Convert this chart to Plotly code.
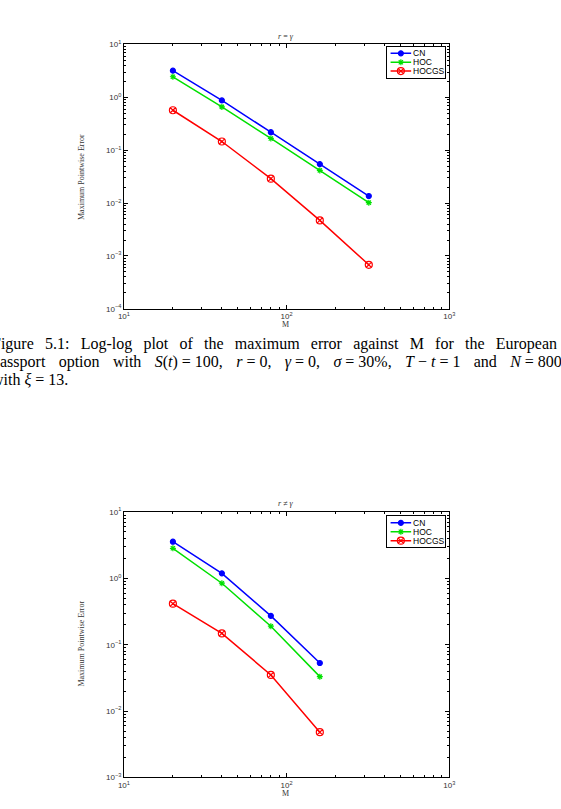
import plotly.graph_objects as go

W, H = 561, 809

# ---------------- data ----------------
M1 = [20, 40, 80, 160, 320]
cn1 = [3.2, 0.875, 0.219, 0.0546, 0.0136]
hoc1 = [2.45, 0.66, 0.167, 0.0415, 0.0102]
hocgs1 = [0.57, 0.146, 0.029, 0.0047, 0.00068]

M2 = [20, 40, 80, 160]
cn2 = [3.57, 1.19, 0.272, 0.053]
hoc2 = [2.84, 0.845, 0.19, 0.033]
hocgs2 = [0.415, 0.148, 0.035, 0.0048]

series_names = ["CN", "HOC", "HOCGS"]
x_tickvals = [10, 100, 1000]
x_ticktext = ["10<sup>1</sup>", "10<sup>2</sup>", "10<sup>3</sup>"]
y1_tickvals = [1e-4, 1e-3, 1e-2, 1e-1, 1, 10]
y1_ticktext = ["10<sup>−4</sup>", "10<sup>−3</sup>", "10<sup>−2</sup>", "10<sup>−1</sup>", "10<sup>0</sup>", "10<sup>1</sup>"]
y2_tickvals = [1e-3, 1e-2, 1e-1, 1, 10]
y2_ticktext = ["10<sup>−3</sup>", "10<sup>−2</sup>", "10<sup>−1</sup>", "10<sup>0</sup>", "10<sup>1</sup>"]

G1 = "\u2002\u2009"   # justified inter-word gap, line 1
G2 = "\u2002\u2004"   # justified inter-word gap, line 2
caption_line1_words = ["Figure", "5.1:", "Log-log", "plot", "of", "the", "maximum", "error",
                       "against", "M", "for", "the", "European"]
caption_line2_parts = ["passport", "option", "with", "<i>S</i>(<i>t</i>) = 100,", "<i>r</i> = 0,",
                       "<i>γ</i> = 0,", "<i>σ</i> = 30%,", "<i>T</i> − <i>t</i> = 1", "and",
                       "<i>N</i> = 800"]
caption_line3 = "with <i>ξ</i> = 13."

# ---------------- styles ----------------
styles = {
    "CN": dict(color="#0000FF", symbol="circle", size=5),
    "HOC": dict(color="#00E000", symbol="asterisk-open", size=5),
    "HOCGS": dict(color="#FF0000", symbol="circle-x-open", size=7),
}


def px(x):
    return x / W


def py(y):
    return 1 - y / H


fig = go.Figure()

for xa, ya, M, vals in [("x", "y", M1, [cn1, hoc1, hocgs1]), ("x2", "y2", M2, [cn2, hoc2, hocgs2])]:
    for name, v in zip(series_names, vals):
        s = styles[name]
        fig.add_trace(go.Scatter(
            x=M, y=v, mode="lines+markers", name=name, showlegend=False,
            xaxis=xa, yaxis=ya,
            line=dict(color=s["color"], width=1.5),
            marker=dict(symbol=s["symbol"], size=s["size"], color=s["color"],
                        line=dict(color=s["color"], width=1.2)),
        ))

# custom compact legends (drawn on small helper axes)
legend_axes = [("x3", "y3"), ("x4", "y4")]
for xa, ya in legend_axes:
    for i, name in enumerate(series_names):
        s = styles[name]
        yy = 6.5 + 9 * i
        fig.add_trace(go.Scatter(x=[4, 25], y=[yy, yy], mode="lines", showlegend=False,
                                 xaxis=xa, yaxis=ya, line=dict(color=s["color"], width=1.5),
                                 hoverinfo="skip"))
        fig.add_trace(go.Scatter(x=[14.5], y=[yy], mode="markers", showlegend=False,
                                 xaxis=xa, yaxis=ya,
                                 marker=dict(symbol=s["symbol"], size=s["size"], color=s["color"],
                                             line=dict(color=s["color"], width=1.2)),
                                 hoverinfo="skip"))
        fig.add_annotation(x=26, y=yy, xref=xa, yref=ya, text=name, showarrow=False,
                           xanchor="left", yanchor="middle", borderpad=0,
                           font=dict(family="Liberation Sans", size=8.5, color="black"))

tickfont = dict(family="Liberation Sans", size=8, color="#333333")
minor_x = [m * 10 ** e for e in (1, 2) for m in range(2, 10)]


def log_axis(domain, rng, tickvals, ticktext, minor_vals):
    return dict(
        type="log", domain=domain, range=rng,
        tickmode="array", tickvals=tickvals, ticktext=ticktext,
        ticks="inside", ticklen=4, tickwidth=1, tickcolor="black",
        showline=True, linecolor="black", linewidth=1, mirror="ticks",
        showgrid=False, zeroline=False, tickfont=tickfont,
        minor=dict(tickmode="array", tickvals=minor_vals, ticks="inside", ticklen=2,
                   tickcolor="black", showgrid=False),
    )


minor_y1 = [m * 10.0 ** e for e in range(-4, 1) for m in range(2, 10)]
minor_y2 = [m * 10.0 ** e for e in range(-3, 1) for m in range(2, 10)]

xdom = [px(120.5), px(453)]
y1dom = [py(307), py(39)]
y2dom = [py(782), py(513)]

box_axis = dict(showticklabels=False, ticks="", showgrid=False, zeroline=False, showline=True,
                linecolor="black", linewidth=1, mirror=True, fixedrange=True)

fig.update_layout(
    width=W, height=H, margin=dict(l=0, r=0, t=0, b=0),
    paper_bgcolor="white", plot_bgcolor="white",
    showlegend=False,
    xaxis=log_axis(xdom, [1, 3], x_tickvals, x_ticktext, minor_x) | dict(anchor="y"),
    yaxis=log_axis(y1dom, [-4, 1], y1_tickvals, y1_ticktext, minor_y1) | dict(anchor="x"),
    xaxis2=log_axis(xdom, [1, 3], x_tickvals, x_ticktext, minor_x) | dict(anchor="y2"),
    yaxis2=log_axis(y2dom, [-3, 1], y2_tickvals, y2_ticktext, minor_y2) | dict(anchor="x2"),
    xaxis3=box_axis | dict(domain=[px(389), px(449)], range=[0, 60], anchor="y3"),
    yaxis3=box_axis | dict(domain=[py(72.5), py(41.5)], range=[31, 0], anchor="x3"),
    xaxis4=box_axis | dict(domain=[px(389), px(449)], range=[0, 60], anchor="y4"),
    yaxis4=box_axis | dict(domain=[py(548), py(517.5)], range=[30.5, 0], anchor="x4"),
)

serif_small = dict(family="Liberation Serif", size=8, color="#333333")

# titles and axis labels
fig.add_annotation(x=px(286), y=py(31), xref="paper", yref="paper", text="<i>r</i> = <i>γ</i>",
                   showarrow=False, font=serif_small, xanchor="center", yanchor="middle")
fig.add_annotation(x=px(286), y=py(504), xref="paper", yref="paper", text="<i>r</i> ≠ <i>γ</i>",
                   showarrow=False, font=serif_small, xanchor="center", yanchor="middle")
for yc in (173, 646):
    fig.add_annotation(x=px(77), y=py(yc), xref="paper", yref="paper", text="Maximum Pointwise Error",
                       textangle=-90, showarrow=False, font=serif_small,
                       xanchor="center", yanchor="middle")
for yc in (323, 798):
    fig.add_annotation(x=px(286), y=py(yc), xref="paper", yref="paper", text="M",
                       showarrow=False, font=serif_small, xanchor="center", yanchor="middle")

# caption (justified by wider inter-word gaps)
caption_lines = [G1.join(caption_line1_words), G2.join(caption_line2_parts), caption_line3]
for yc, line in zip((343, 361, 379), caption_lines):
    fig.add_annotation(x=px(-16), y=py(yc), xref="paper", yref="paper", text=line,
                       showarrow=False, xanchor="left", yanchor="middle", align="left",
                       font=dict(family="Liberation Serif", size=16, color="black"))

fig.write_html("out.html")
